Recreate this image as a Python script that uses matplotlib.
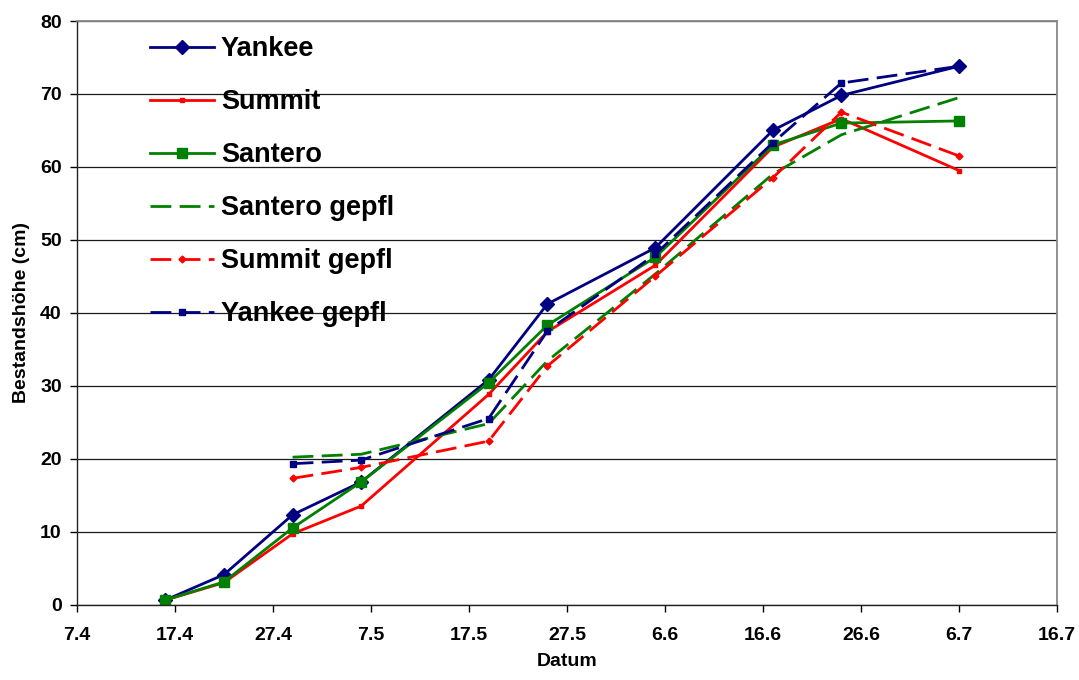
import matplotlib
matplotlib.use("Agg")
import matplotlib.pyplot as plt
import matplotlib.dates as mdates
import matplotlib.ticker as mticker
import pandas as pd

plt.rcParams['font.family'] = ['Liberation Sans', 'DejaVu Sans']
plt.rcParams['font.weight'] = 'bold'

# ---- data ----
dates_all = ["2003-04-16", "2003-04-22", "2003-04-29", "2003-05-06", "2003-05-19",
             "2003-05-25", "2003-06-05", "2003-06-17", "2003-06-24", "2003-07-06"]
dates_gepfl = ["2003-04-29", "2003-05-06", "2003-05-19", "2003-05-25",
               "2003-06-05", "2003-06-17", "2003-06-24", "2003-07-06"]

yankee = [0.6, 4.1, 12.3, 16.8, 30.8, 41.2, 48.9, 65.0, 69.8, 73.8]
summit = [0.6, 3.0, 9.7, 13.5, 28.8, 37.4, 46.5, 62.7, 66.6, 59.5]
santero = [0.6, 3.1, 10.5, 16.8, 30.4, 38.3, 47.6, 63.0, 66.0, 66.3]

santero_gepfl = [20.2, 20.6, 24.8, 33.4, 45.3, 59.0, 64.4, 69.5]
summit_gepfl = [17.3, 18.8, 22.4, 32.7, 45.0, 58.5, 67.5, 61.5]
yankee_gepfl = [19.3, 19.8, 25.5, 37.5, 48.0, 63.3, 71.5, 73.8]

x_start = "2003-04-07"
x_end = "2003-07-16"
y_ticks = [0, 10, 20, 30, 40, 50, 60, 70, 80]

xa = pd.to_datetime(dates_all)
xg = pd.to_datetime(dates_gepfl)

NAVY = '#000080'
RED = '#FF0000'
GREEN = '#008000'

fig = plt.figure(figsize=(10.79, 6.8), dpi=100)
W, H = 1079, 680
ax = fig.add_axes([77 / W, 1 - 604.5 / H, (1057 - 77) / W, (604.5 - 21) / H])

lw = 2.0
dash = (7.5, 3.0)
ax.plot(xa, yankee, color=NAVY, lw=lw, marker='D', ms=7.5, mfc=NAVY, mec=NAVY, label='Yankee')
ax.plot(xa, summit, color=RED, lw=lw, marker='s', ms=3.5, mfc=RED, mec=RED, label='Summit')
ax.plot(xa, santero, color=GREEN, lw=lw, marker='s', ms=7.5, mfc=GREEN, mec=GREEN, label='Santero')
ax.plot(xg, santero_gepfl, color=GREEN, lw=lw, dashes=dash, label='Santero gepfl')
ax.plot(xg, summit_gepfl, color=RED, lw=lw, dashes=dash, marker='D', ms=3.5,
        mfc=RED, mec=RED, label='Summit gepfl')
ax.plot(xg, yankee_gepfl, color=NAVY, lw=lw, dashes=dash, marker='s', ms=4,
        mfc=NAVY, mec=NAVY, label='Yankee gepfl')

# axes
ax.set_xlim(pd.Timestamp(x_start), pd.Timestamp(x_end))
ax.set_ylim(0, 80)
ax.set_yticks(y_ticks)
ax.xaxis.set_major_locator(mticker.FixedLocator(
    mdates.date2num(pd.date_range(x_start, x_end, freq='10D'))))
ax.xaxis.set_major_formatter(mticker.FuncFormatter(
    lambda v, p: f"{mdates.num2date(v).day}.{mdates.num2date(v).month}"))

ax.yaxis.grid(True, color='#1a1a1a', lw=0.9)
ax.set_axisbelow(True)
for s in ['top', 'right']:
    ax.spines[s].set_color('#888888')
    ax.spines[s].set_linewidth(1.3)
for s in ['left', 'bottom']:
    ax.spines[s].set_color('#222222')
    ax.spines[s].set_linewidth(1.0)

ax.tick_params(axis='both', direction='out', length=5, width=1.0, colors='black',
               labelsize=14)
ax.tick_params(axis='x', pad=11)
ax.tick_params(axis='y', pad=6)
for t in ax.get_xticklabels() + ax.get_yticklabels():
    t.set_fontweight('bold')

ax.set_xlabel('Datum', fontsize=14, fontweight='bold')
ax.set_ylabel('Bestandshöhe (cm)', fontsize=14, fontweight='bold')
ax.xaxis.set_label_coords(0.5, -0.083)
ax.yaxis.set_label_coords(-0.048, 0.5)

leg = ax.legend(loc='upper left', bbox_to_anchor=(150 / W, 1 - 36 / H),
                bbox_transform=fig.transFigure, frameon=False,
                prop={'family': 'Liberation Sans', 'weight': 'bold', 'size': 19.5},
                handlelength=2.35, handletextpad=0.27, labelspacing=1.0,
                borderpad=0, borderaxespad=0, numpoints=1)

fig.savefig('out.png', dpi=100)
